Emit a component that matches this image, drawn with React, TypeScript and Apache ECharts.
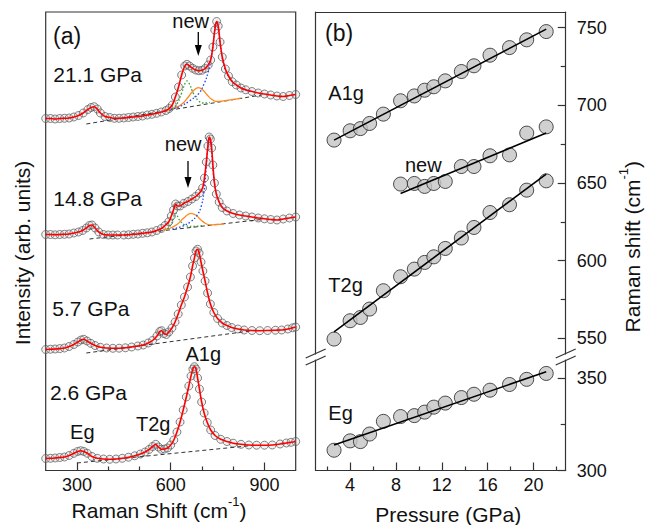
import React, { useEffect, useRef } from "react";
import * as echarts from "echarts";

// ---------- Panel (a): Raman spectra, [Raman shift (cm-1), intensity above own baseline (arb. units)] ----------
const spec26 = [[200,1.5],[215,1.7],[230,2],[245,2.5],[260,3],[275,4.5],[290,6.7],[302,8.5],[312,9.3],[322,8.5],[333,6.7],[348,3.5],[365,1.7],[385,1],[405,0.7],[425,1],[445,1.7],[465,2.8],[485,4.2],[503,6],[518,8],[531,10.5],[542,13.5],[552,15.7],[561,13],[570,10.7],[580,11],[590,12],[600,15],[610,20],[620,28],[630,38],[640,50],[650,63],[658,74],[665,84],[671,91],[676,93.3],[681,91],[686,82],[692,71],[699,58],[707,47],[717,37.5],[728,30],[742,24.5],[760,20.7],[780,18.5],[800,16.8],[825,15.7],[850,15],[875,14.8],[900,14.8],[925,15],[950,16],[970,17],[985,17.7],[1000,18.5]];
const spec57 = [[200,0.5],[215,0.8],[230,1],[245,1.4],[260,2],[275,3.5],[290,5.5],[303,8],[313,10],[322,10.7],[332,9],[344,6.7],[358,4.5],[375,2.7],[395,2],[415,1.7],[435,1.8],[455,2.2],[475,3],[495,4],[512,5],[528,7],[542,9.5],[556,14],[565,18.5],[571,19.3],[578,16.5],[586,15.5],[594,18],[604,22],[614,28],[624,36],[634,45],[644,53],[654,63],[663,73],[670,84],[676,92],[681,99],[686,100.7],[691,97],[697,88],[703,79],[710,69],[718,57],[727,46],[738,37.5],[750,31.5],[765,27],[780,24.5],[795,22.5],[815,21],[835,20],[860,19.5],[885,19.3],[910,19.5],[935,19.8],[955,20],[975,21],[990,22.2],[1000,23]];
const spec148 = [[200,1.5],[215,1.5],[230,1.2],[245,1.5],[260,1.7],[275,2],[290,3],[305,4],[318,5.5],[330,8],[340,10.5],[348,11],[358,8],[370,4],[385,1.5],[400,1],[415,1],[430,1],[450,1],[465,1.2],[480,1.7],[495,2],[510,2.7],[525,3.2],[540,4],[555,5.5],[570,7.5],[582,10.5],[594,14.3],[602,20],[609,26],[616,32],[622,30],[630,30],[642,32.7],[655,34.5],[668,37],[680,39.5],[692,43],[702,48],[708,58],[714,74],[719,90],[723,99],[727,97],[731,88],[735,71],[740,53],[746,42],[755,34],[765,28.5],[780,25],[800,22.5],[820,21],[840,20],[860,19],[880,18],[900,17.2],[920,16.5],[940,16],[960,17],[980,18],[1000,19]];
const spec211 = [[200,1.5],[215,1.5],[230,1],[245,1.5],[260,1.7],[275,2],[290,3],[305,4.5],[320,7],[335,10.5],[345,12.5],[355,13.3],[365,11],[375,7],[390,3.5],[405,2.5],[420,1.7],[435,1.7],[450,2],[465,2.5],[480,3],[495,3.5],[510,4],[525,5],[540,5.7],[555,6.7],[570,8],[585,9.5],[595,11.5],[605,15],[615,23],[625,33],[635,45],[645,54],[652,55.7],[660,54],[670,51.7],[680,50],[690,49.3],[700,49.7],[710,51.5],[720,55],[728,60],[735,73],[741,90],[747,98.5],[752,94],[758,78],[765,63],[775,51],[785,44],[797,38.3],[810,35],[825,32],[840,30.2],[860,28.5],[880,27],[900,26],[920,25],[940,24],[960,23.5],[980,24.5],[1000,25.5]];

// linear backgrounds (dashed)
const base26 = [[300,-3],[860,14.5]];
const base57 = [[330,-3],[860,19.3]];
const base148 = [[340,-3],[890,16.5]];
const base211 = [[330,-4],[890,25]];

// fitted components (orange = new mode, green = T2g, blue = A1g)
const orange211 = [[580,9.5],[600,10.8],[620,12.8],[640,17],[655,22.5],[670,28.5],[688,32.3],[703,30],[717,25],[730,21],[744,18.6],[770,19.2],[800,20.6],[824,21.8]];
const green211 = [[605,11],[620,16],[635,27],[645,36],[652,39],[660,36],[672,27],[688,19.5],[705,17],[725,17.5]];
const blue211 = [[600,10.5],[630,13.5],[660,19],[690,26.5],[708,37],[720,48],[729,61],[736,77],[742,91],[747,98],[752,93],[758,77],[765,62],[775,50],[790,41.5],[810,35],[835,30.5],[860,28]];
const orange148 = [[575,5.8],[600,8],[620,11.5],[642,18],[664,22.7],[680,21],[697,16],[712,12.5],[725,11.2],[745,11.5],[770,12.2]];
const green148 = [[590,7],[603,12.5],[616,22.7],[628,16],[645,11],[670,9.5],[700,10.3]];
const blue148 = [[605,7],[635,9.5],[664,14.3],[685,21],[698,30],[707,45],[713,66],[718,86],[723,98],[728,93],[733,76],[740,53],[750,38],[765,29],[785,24.5]];

const ticksAMajor = [300, 600, 900];
const ticksAMinor = [400, 500, 700, 800];

// ---------- Panel (b): peak positions vs pressure ----------
const pressure = [2.6, 4.0, 4.9, 5.7, 6.9, 8.4, 9.6, 10.5, 11.3, 12.3, 13.7, 14.8, 16.2, 17.9, 19.4, 21.1];
const a1g = [677.6, 683.6, 685, 688.3, 694.3, 702.9, 706, 709.7, 711.9, 715.7, 721.7, 725.4, 732.2, 737.1, 742.1, 747.4];
const t2g = [549.6, 561.4, 563.5, 568.9, 580.7, 589.7, 594.6, 598.9, 602.5, 607.9, 614.6, 621.4, 631, 636, 645.4, 651.4];
const eg = [311, 316.1, 315.7, 319.8, 326.7, 329.3, 329.8, 331.7, 334.4, 336.6, 339.6, 341.4, 343.6, 346.7, 349.5, 352.7];
const pressureNew = [8.4, 9.6, 10.5, 11.3, 12.3, 13.7, 14.8, 16.2, 17.9, 19.4, 21.1];
const newMode = [649.3, 649.7, 647.8, 649.7, 651, 660.6, 660.6, 667.5, 668.1, 682.1, 686.1];
const fitA1g = [[2.6, 677.6], [21.1, 749]];
const fitNew = [[8.4, 643.3], [21.1, 682.1]];
const fitT2g = [[2.6, 554.3], [21.1, 655.7]];
const fitEg = [[2.6, 313.9], [21.1, 353.6]];

const pTicksMajor = [4, 8, 12, 16, 20];
const pTicksMinor = [2, 6, 10, 14, 18, 22];
const upperTicksMajor = [550, 600, 650, 700, 750];
const upperTicksMinor = [575, 625, 675, 725];
const lowerTicksMajor = [300, 350];
const lowerTicksMinor = [325];

// ---------- layout ----------
const FONT = "'Liberation Sans', Arial, Helvetica, sans-serif";
const AX = "#333";
const GA = { left: 45.7, top: 12, width: 250, height: 458.5 };
const GB = { left: 315.7, width: 250, upTop: 12, upH: 342, lowTop: 360, lowH: 110.5 };
const offsets = { s26: 10.5, s57: 120.5, s148: 234.5, s211: 350.5 };

const shift = (arr: number[][], o: number) => arr.map((p) => [p[0], p[1] + o]);
const pair = (xs: number[], ys: number[]) => xs.map((x, i) => [x, ys[i]]);

function spectrumSeries(data: number[][], base: number[][], o: number) {
  return [
    {
      type: "scatter", xAxisIndex: 0, yAxisIndex: 0, data: shift(data, o), symbol: "circle", symbolSize: 8,
      itemStyle: { color: "rgba(190,190,190,0.25)", borderColor: "#555", borderWidth: 0.9 }, z: 2, silent: true,
    },
    {
      type: "line", xAxisIndex: 0, yAxisIndex: 0, data: shift(base, o), symbol: "none",
      lineStyle: { color: "#333", width: 1, type: [4, 3] }, z: 3, silent: true,
    },
    {
      type: "line", xAxisIndex: 0, yAxisIndex: 0, data: shift(data, o), symbol: "none", smooth: 0.3,
      lineStyle: { color: "#ff0000", width: 1.6 }, z: 6, silent: true,
    },
  ];
}
function compSeries(data: number[][], o: number, color: string, dotted: boolean) {
  return {
    type: "line", xAxisIndex: 0, yAxisIndex: 0, data: shift(data, o), symbol: "none", smooth: 0.4,
    lineStyle: { color, width: 1.3, type: dotted ? [1.5, 2] : "solid" }, z: 4, silent: true,
  };
}

const txt = (text: string, x: number, y: number, size: number, align = "left", extra: any = {}) => ({
  type: "text", x, y, z: 50, silent: true, ...extra,
  style: { text, fontSize: size, fontFamily: FONT, fill: "#111", align, verticalAlign: "middle", ...(extra.style || {}) },
});

export default function App() {
  const ref = useRef<HTMLDivElement>(null);
  useEffect(() => {
    if (!ref.current) return;
    const chart = echarts.init(ref.current, null, { renderer: "svg" });
    const labelStyle = { fontSize: 18, fontFamily: FONT, color: "#111" };
    const lineStyle = { color: AX, width: 1.2 };
    const noSplit = { show: false };

    const scatterB = (data: number[][], xi: number, yi: number) => ({
      type: "scatter", xAxisIndex: xi, yAxisIndex: yi, data, symbol: "circle", symbolSize: 14,
      itemStyle: { color: "#c4c4c4", borderColor: "#222", borderWidth: 1 }, z: 3, silent: true,
    });
    const fitB = (data: number[][], xi: number, yi: number) => ({
      type: "line", xAxisIndex: xi, yAxisIndex: yi, data, symbol: "none",
      lineStyle: { color: "#000", width: 1.6 }, z: 5, silent: true,
    });

    const supRich = { sup: { fontSize: 13, fontFamily: FONT, fill: "#111", verticalAlign: "top", lineHeight: 13 } };
    const brk = (cx: number, cy: number) => ({
      type: "line", z: 60, silent: true,
      shape: { x1: cx - 10, y1: cy + 4.5, x2: cx + 10, y2: cy - 4.5 },
      style: { stroke: AX, lineWidth: 1.2 },
    });
    const arrow = (x: number, y1: number, tip: number) => [
      { type: "line", z: 50, silent: true, shape: { x1: x, y1, x2: x, y2: tip - 9 }, style: { stroke: "#000", lineWidth: 1.3 } },
      { type: "polygon", z: 50, silent: true, shape: { points: [[x - 3.5, tip - 11], [x + 3.5, tip - 11], [x, tip]] }, style: { fill: "#000" } },
    ];

    const option: any = {
      animation: false,
      backgroundColor: "#ffffff",
      grid: [
        { left: GA.left, top: GA.top, width: GA.width, height: GA.height, show: true, borderColor: AX, borderWidth: 1.2, backgroundColor: "transparent", outerBoundsMode: "none" },
        { left: GB.left, top: GB.upTop, width: GB.width, height: GB.upH, outerBoundsMode: "none" },
        { left: GB.left, top: GB.lowTop, width: GB.width, height: GB.lowH, outerBoundsMode: "none" },
      ],
      xAxis: [
        { type: "value", gridIndex: 0, min: 200, max: 1000, position: "bottom", axisLine: { show: false, onZero: false },
          axisTick: { show: true, inside: true, length: 8, customValues: ticksAMajor, lineStyle },
          axisLabel: { ...labelStyle, margin: 5, customValues: ticksAMajor }, splitLine: noSplit },
        { type: "value", gridIndex: 0, min: 200, max: 1000, position: "bottom", axisLine: { show: false, onZero: false },
          axisTick: { show: true, inside: true, length: 4, customValues: ticksAMinor, lineStyle },
          axisLabel: { show: false }, splitLine: noSplit },
        { type: "value", gridIndex: 1, min: 1, max: 22.8, position: "top", axisLine: { show: true, onZero: false, lineStyle },
          axisTick: { show: false }, axisLabel: { show: false }, splitLine: noSplit },
        { type: "value", gridIndex: 2, min: 1, max: 22.8, position: "bottom", axisLine: { show: true, onZero: false, lineStyle },
          axisTick: { show: true, inside: true, length: 8, customValues: pTicksMajor, lineStyle },
          axisLabel: { ...labelStyle, margin: 5, customValues: pTicksMajor }, splitLine: noSplit },
        { type: "value", gridIndex: 2, min: 1, max: 22.8, position: "bottom", axisLine: { show: false, onZero: false },
          axisTick: { show: true, inside: true, length: 4, customValues: pTicksMinor, lineStyle },
          axisLabel: { show: false }, splitLine: noSplit },
      ],
      yAxis: [
        { type: "value", gridIndex: 0, min: 0, max: GA.height, show: false },
        { type: "value", gridIndex: 1, min: 540, max: 760, position: "right", axisLine: { show: true, onZero: false, lineStyle },
          axisTick: { show: true, inside: true, length: 8, customValues: upperTicksMajor, lineStyle },
          axisLabel: { ...labelStyle, margin: 11, customValues: upperTicksMajor }, splitLine: noSplit },
        { type: "value", gridIndex: 1, min: 540, max: 760, position: "right", axisLine: { show: false, onZero: false },
          axisTick: { show: true, inside: true, length: 5, customValues: upperTicksMinor, lineStyle },
          axisLabel: { show: false }, splitLine: noSplit },
        { type: "value", gridIndex: 1, min: 540, max: 760, position: "left", axisLine: { show: true, onZero: false, lineStyle },
          axisTick: { show: false }, axisLabel: { show: false }, splitLine: noSplit },
        { type: "value", gridIndex: 2, min: 300, max: 360, position: "right", axisLine: { show: true, onZero: false, lineStyle },
          axisTick: { show: true, inside: true, length: 8, customValues: lowerTicksMajor, lineStyle },
          axisLabel: { ...labelStyle, margin: 11, customValues: lowerTicksMajor }, splitLine: noSplit },
        { type: "value", gridIndex: 2, min: 300, max: 360, position: "right", axisLine: { show: false, onZero: false },
          axisTick: { show: true, inside: true, length: 5, customValues: lowerTicksMinor, lineStyle },
          axisLabel: { show: false }, splitLine: noSplit },
        { type: "value", gridIndex: 2, min: 300, max: 360, position: "left", axisLine: { show: true, onZero: false, lineStyle },
          axisTick: { show: false }, axisLabel: { show: false }, splitLine: noSplit },
      ],
      series: [
        ...spectrumSeries(spec26, base26, offsets.s26),
        ...spectrumSeries(spec57, base57, offsets.s57),
        ...spectrumSeries(spec148, base148, offsets.s148),
        ...spectrumSeries(spec211, base211, offsets.s211),
        compSeries(orange148, offsets.s148, "#ff8a1c", false),
        compSeries(green148, offsets.s148, "#2e9e2e", true),
        compSeries(blue148, offsets.s148, "#2040ff", true),
        compSeries(orange211, offsets.s211, "#ff8a1c", false),
        compSeries(green211, offsets.s211, "#2e9e2e", true),
        compSeries(blue211, offsets.s211, "#2040ff", true),
        scatterB(pair(pressure, a1g), 2, 1),
        scatterB(pair(pressureNew, newMode), 2, 1),
        scatterB(pair(pressure, t2g), 2, 1),
        scatterB(pair(pressure, eg), 3, 4),
        fitB(fitA1g, 2, 1),
        fitB(fitNew, 2, 1),
        fitB(fitT2g, 2, 1),
        fitB(fitEg, 3, 4),
      ],
      graphic: [
        txt("(a)", 53, 36, 23),
        txt("new", 190.7, 21, 20, "center"),
        ...arrow(198.3, 32, 56),
        txt("21.1 GPa", 53.3, 74.2, 21),
        txt("new", 183.2, 144, 20, "center"),
        ...arrow(188, 161, 188),
        txt("14.8 GPa", 53.3, 198.8, 21),
        txt("5.7 GPa", 52.3, 308.8, 21),
        txt("A1g", 203.3, 354, 20, "center"),
        txt("2.6 GPa", 50, 392.2, 21),
        txt("Eg", 82.3, 432, 20, "center"),
        txt("T2g", 153.2, 424, 20, "center"),
        txt("(b)", 325, 33.3, 23),
        txt("A1g", 328.3, 92.5, 20),
        txt("new", 405, 165, 20),
        txt("T2g", 328.3, 285, 20),
        txt("Eg", 328.3, 413.3, 20),
        txt("Raman Shift (cm{sup|-1})", 159, 510, 21, "center", { style: { rich: supRich, lineHeight: 30 } }),
        txt("Pressure (GPa)", 448.3, 514, 21, "center"),
        txt("Intensity (arb. units)", 22, 253, 21, "center", { rotation: Math.PI / 2 }),
        txt("Raman shift (cm{sup|-1})", 632, 246.7, 21, "center", { rotation: Math.PI / 2, style: { rich: supRich, lineHeight: 30 } }),
        brk(GB.left, 353.5), brk(GB.left, 360.5),
        brk(GB.left + GB.width, 353.5), brk(GB.left + GB.width, 360.5),
      ],
    };
    chart.setOption(option);
    return () => chart.dispose();
  }, []);
  return <div ref={ref} style={{ position: "fixed", left: 0, top: 0, width: 645, height: 525, background: "#fff" }} />;
}
